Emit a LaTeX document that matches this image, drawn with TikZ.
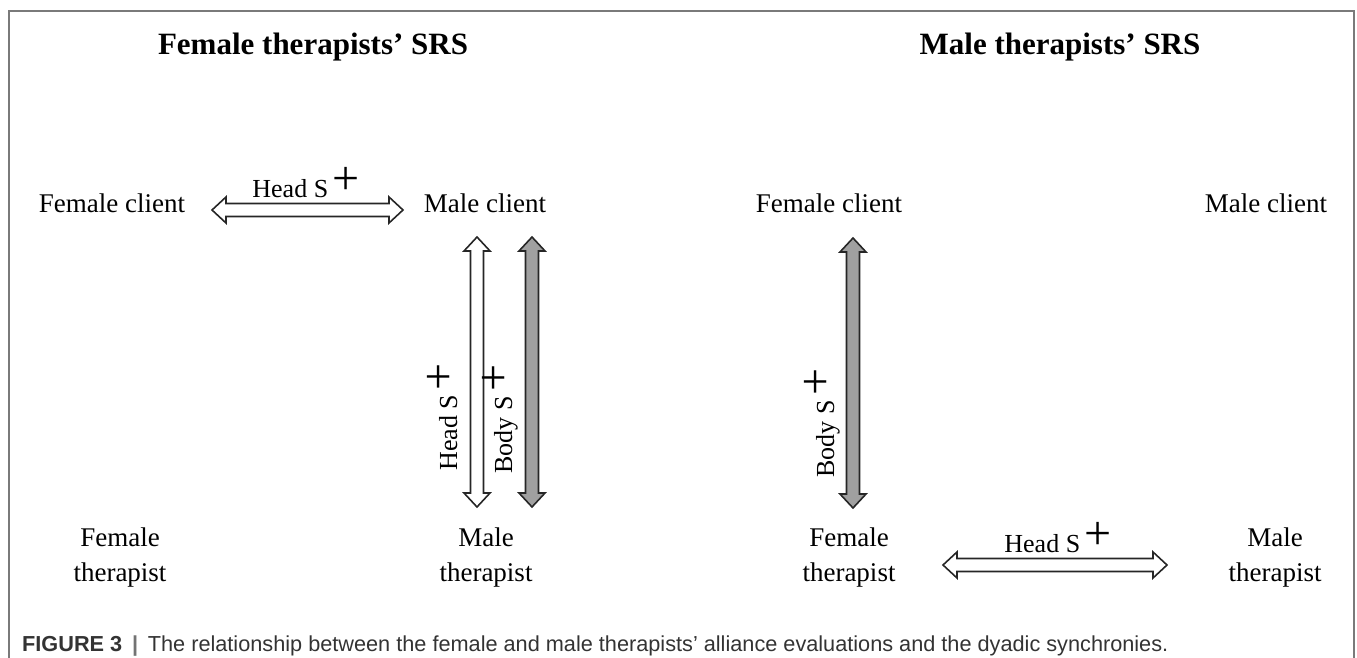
\documentclass[tikz,border=0pt]{standalone}
\usepackage{fontspec}
\setmainfont{Liberation Serif}
\newfontfamily\capfont{Liberation Sans}
\usetikzlibrary{calc}
\newcommand\arrHL{14pt}
\newcommand\arrHW{13pt}
\newcommand\arrSW{6.5pt}
\newcommand\dblarrow[3]{%
  \draw[arrowline, fill=#3]
    (#1)
    -- ($(#1)!\arrHL!(#2)!\arrHW!90:(#2)$)
    -- ($(#1)!\arrHL!(#2)!\arrSW!90:(#2)$)
    -- ($(#2)!\arrHL!(#1)!\arrSW!-90:(#1)$)
    -- ($(#2)!\arrHL!(#1)!\arrHW!-90:(#1)$)
    -- (#2)
    -- ($(#2)!\arrHL!(#1)!\arrHW!90:(#1)$)
    -- ($(#2)!\arrHL!(#1)!\arrSW!90:(#1)$)
    -- ($(#1)!\arrHL!(#2)!\arrSW!-90:(#2)$)
    -- ($(#1)!\arrHL!(#2)!\arrHW!-90:(#2)$)
    -- cycle;}
\newcommand\bigplus{{\fontsize{48}{48}\selectfont\raisebox{2.5pt}{+}}}
\definecolor{arrgray}{HTML}{A0A0A0}
\definecolor{framegray}{HTML}{7A7A7A}
\definecolor{captext}{HTML}{333333}
\begin{document}
\begin{tikzpicture}[x=1pt,y=-1pt,
  lbl/.style={inner sep=0pt, align=center, font=\fontsize{27}{35}\selectfont},
  ttl/.style={inner sep=0pt, anchor=base, font=\fontsize{31}{36}\selectfont\bfseries},
  slbl/.style={inner sep=0pt, anchor=base, font=\fontsize{26}{30}\selectfont},
  arrowline/.style={draw=black!85, line width=1.6pt, line join=miter},
  frame/.style={draw=framegray, line width=1.5pt}]
\useasboundingbox (0,0) rectangle (1357,658);
% frame
\draw[frame] (9,658) -- (9,11) -- (1354,11) -- (1354,658);
% titles
\node[ttl] (t1) at (313,55) {Female therapists’ SRS};
\node[ttl] (t2) at (1060,55) {Male therapists’ SRS};
% left panel
\node[lbl, anchor=base] (fc1) at (112,212) {Female client};
\node[lbl, anchor=base] (mc1) at (485,212) {Male client};
\node[lbl] (ft1) at (120,558) {Female\\therapist};
\node[lbl] (mt1) at (486,558) {Male\\therapist};
% right panel
\node[lbl, anchor=base] (fc2) at (829,212) {Female client};
\node[lbl, anchor=base] (mc2) at (1266,212) {Male client};
\node[lbl] (ft2) at (849,558) {Female\\therapist};
\node[lbl] (mt2) at (1275,558) {Male\\therapist};
% arrow end points
\coordinate (a1s) at (212,210);
\coordinate (a1e) at (403,210);
\coordinate (a2s) at (477,237);
\coordinate (a2e) at (477,507);
\coordinate (a3s) at (532,237);
\coordinate (a3e) at (532,507);
\coordinate (a4s) at (853,238);
\coordinate (a4e) at (853,508);
\coordinate (a5s) at (943,565);
\coordinate (a5e) at (1167,565);
% arrows
\dblarrow{a1s}{a1e}{white}
\dblarrow{a2s}{a2e}{white}
\dblarrow{a3s}{a3e}{arrgray}
\dblarrow{a4s}{a4e}{arrgray}
\dblarrow{a5s}{a5e}{white}
% arrow labels
\node[slbl] (l1) at (306,197) {Head S\,\bigplus};
\node[slbl, rotate=90] (l2) at (457,417) {Head S\,\bigplus};
\node[slbl, rotate=90] (l3) at (512,419) {Body S\,\bigplus};
\node[slbl, rotate=90] (l4) at (834,423) {Body S\,\bigplus};
\node[slbl] (l5) at (1058,552) {Head S\,\bigplus};
% caption
\node[anchor=base west, inner sep=0pt, text=captext, font=\capfont\fontsize{21.7}{26}\selectfont] (cap) at (22,651)
  {\textbf{FIGURE 3}\hspace{0.45em}{\color{black!55}\textbf{|}}\hspace{0.45em}The relationship between the female and male therapists’ alliance evaluations and the dyadic synchronies.};
\end{tikzpicture}
\end{document}
